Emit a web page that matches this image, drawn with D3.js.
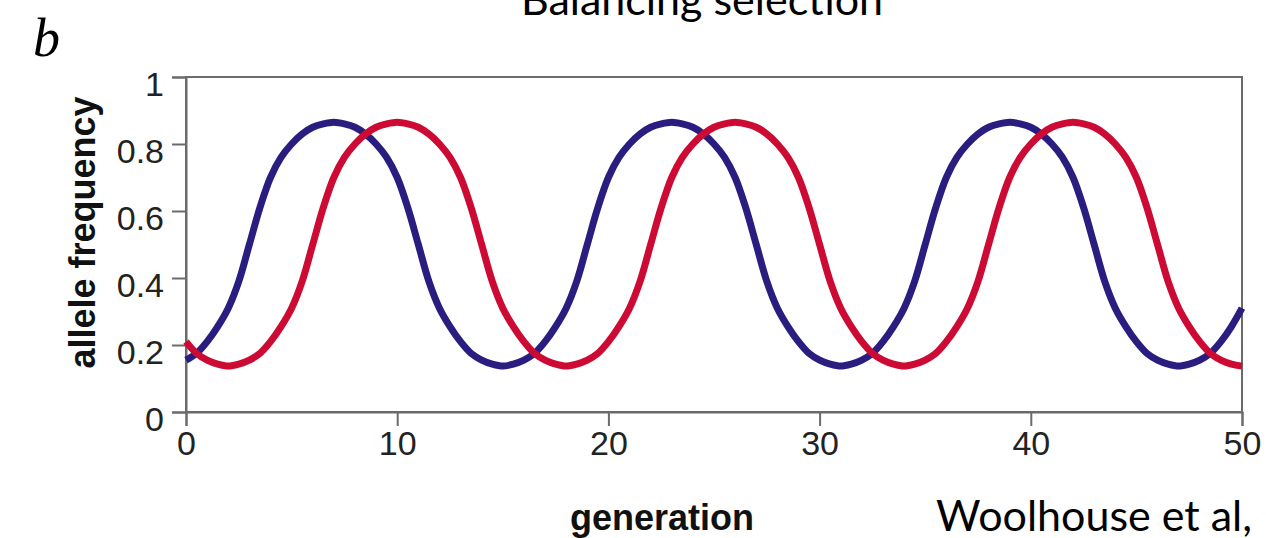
<!DOCTYPE html>
<html>
<head>
<meta charset="utf-8">
<script src="https://cdn.jsdelivr.net/npm/d3@7"></script>
<style>
  html, body { margin: 0; padding: 0; background: #fff; }
  svg { display: block; }
</style>
</head>
<body>
<div id="chart"></div>
<script>
// data, one value every half generation (0, 0.5, ... 50)
const generations = d3.range(0, 50.5, 0.5);
const blueFreq = [
  0.155, 0.175, 0.21, 0.255, 0.31, 0.39, 0.5, 0.61, 0.7, 0.76, 0.8, 0.83, 0.85, 0.86, 0.865, 0.86,
  0.85, 0.83, 0.8, 0.76, 0.7, 0.61, 0.5, 0.39, 0.31, 0.255, 0.21, 0.175, 0.155, 0.143,
  0.137, 0.143, 0.155, 0.175, 0.21, 0.255, 0.31, 0.39, 0.5, 0.61, 0.7, 0.76, 0.8, 0.83, 0.85, 0.86,
  0.865, 0.86, 0.85, 0.83, 0.8, 0.76, 0.7, 0.61, 0.5, 0.39, 0.31, 0.255, 0.21, 0.175, 0.155, 0.143,
  0.137, 0.143, 0.155, 0.175, 0.21, 0.255, 0.31, 0.39, 0.5, 0.61, 0.7, 0.76, 0.8, 0.83, 0.85, 0.86,
  0.865, 0.86, 0.85, 0.83, 0.8, 0.76, 0.7, 0.61, 0.5, 0.39, 0.31, 0.255, 0.21, 0.175, 0.155, 0.143,
  0.137, 0.143, 0.155, 0.175, 0.21, 0.255, 0.31,
];
const redFreq = [
  0.21, 0.175, 0.155, 0.143,
  0.137, 0.143, 0.155, 0.175, 0.21, 0.255, 0.31, 0.39, 0.5, 0.61, 0.7, 0.76, 0.8, 0.83, 0.85, 0.86,
  0.865, 0.86, 0.85, 0.83, 0.8, 0.76, 0.7, 0.61, 0.5, 0.39, 0.31, 0.255, 0.21, 0.175, 0.155, 0.143,
  0.137, 0.143, 0.155, 0.175, 0.21, 0.255, 0.31, 0.39, 0.5, 0.61, 0.7, 0.76, 0.8, 0.83, 0.85, 0.86,
  0.865, 0.86, 0.85, 0.83, 0.8, 0.76, 0.7, 0.61, 0.5, 0.39, 0.31, 0.255, 0.21, 0.175, 0.155, 0.143,
  0.137, 0.143, 0.155, 0.175, 0.21, 0.255, 0.31, 0.39, 0.5, 0.61, 0.7, 0.76, 0.8, 0.83, 0.85, 0.86,
  0.865, 0.86, 0.85, 0.83, 0.8, 0.76, 0.7, 0.61, 0.5, 0.39, 0.31, 0.255, 0.21, 0.175, 0.155, 0.143,
  0.137,
];
const xTicks = [0, 10, 20, 30, 40, 50];
const yTicks = [0, 0.2, 0.4, 0.6, 0.8, 1];

const W = 1266, H = 538;
const margin = { top: 77, right: 24, bottom: 126, left: 186 },
  width = W - margin.left - margin.right,
  height = H - margin.top - margin.bottom;

const svg = d3
  .select("#chart")
  .append("svg")
  .attr("width", W)
  .attr("height", H)
  .style("background", "#fff");

const g = svg
  .append("g")
  .attr("transform", `translate(${margin.left},${margin.top})`);

const x = d3.scaleLinear().domain([0, 50]).range([0, width]);
const y = d3.scaleLinear().domain([0, 1]).range([height, 0]);

const axisColor = "#6b6b6b";
const tickFont = "'Liberation Sans', Arial, sans-serif";

// frame (top + right)
g.append("rect")
  .attr("x", 0)
  .attr("y", 0)
  .attr("width", width)
  .attr("height", height)
  .attr("fill", "none")
  .attr("stroke", axisColor)
  .attr("stroke-width", 2);

// x axis
const xAxis = g
  .append("g")
  .attr("transform", `translate(0,${height})`)
  .call(d3.axisBottom(x).tickValues(xTicks).tickSize(14).tickPadding(5).tickFormat(d3.format("d")));
xAxis.select(".domain").attr("stroke", axisColor).attr("stroke-width", 2);
xAxis.selectAll(".tick line").attr("stroke", axisColor).attr("stroke-width", 2);
xAxis
  .selectAll("text")
  .attr("fill", "#222")
  .style("font-family", tickFont)
  .style("font-size", "34px");

// y axis
const yAxis = g
  .append("g")
  .call(d3.axisLeft(y).tickValues(yTicks).tickSize(14).tickPadding(8).tickFormat((d) => (d === 0 || d === 1 ? d : d3.format(".1f")(d))));
yAxis.select(".domain").attr("stroke", axisColor).attr("stroke-width", 2);
yAxis.selectAll(".tick line").attr("stroke", axisColor).attr("stroke-width", 2);
yAxis
  .selectAll("text")
  .attr("fill", "#222")
  .attr("dy", "0.55em")
  .style("font-family", tickFont)
  .style("font-size", "34px");

// curves
const line = (vals) =>
  d3
    .line()
    .x((d, i) => x(d))
    .y((d, i) => y(vals[i]))
    .curve(d3.curveCatmullRom.alpha(0.5))(generations);

g.append("path")
  .attr("d", line(blueFreq))
  .attr("fill", "none")
  .attr("stroke", "#2a1d80")
  .attr("stroke-width", 7)
  .attr("stroke-linejoin", "round");

g.append("path")
  .attr("d", line(redFreq))
  .attr("fill", "none")
  .attr("stroke", "#cc0a33")
  .attr("stroke-width", 7)
  .attr("stroke-linejoin", "round");

// axis titles
svg
  .append("text")
  .attr("transform", `translate(95,${margin.top + height / 2 - 12}) rotate(-90)`)
  .attr("text-anchor", "middle")
  .style("font-family", tickFont)
  .style("font-weight", "bold")
  .style("font-size", "36px")
  .attr("fill", "#111")
  .text("allele frequency");

svg
  .append("text")
  .attr("x", 662)
  .attr("y", 530)
  .attr("text-anchor", "middle")
  .style("font-family", tickFont)
  .style("font-weight", "bold")
  .style("font-size", "36px")
  .attr("fill", "#111")
  .text("generation");

// slide texts
svg
  .append("text")
  .attr("x", 702)
  .attr("y", 15)
  .attr("text-anchor", "middle")
  .style("font-family", "Lato, 'Open Sans', sans-serif")
  .style("font-size", "43px")
  .attr("fill", "#000")
  .text("Balancing selection");

svg
  .append("text")
  .attr("x", 1252)
  .attr("y", 531)
  .attr("text-anchor", "end")
  .style("font-family", "Lato, 'Open Sans', sans-serif")
  .style("font-size", "43px")
  .attr("fill", "#000")
  .text("Woolhouse et al,");

svg
  .append("text")
  .attr("x", 33)
  .attr("y", 56)
  .style("font-family", "'Liberation Serif', 'DejaVu Serif', serif")
  .style("font-style", "italic")
  .style("font-size", "54px")
  .attr("fill", "#000")
  .text("b");
</script>
</body>
</html>
